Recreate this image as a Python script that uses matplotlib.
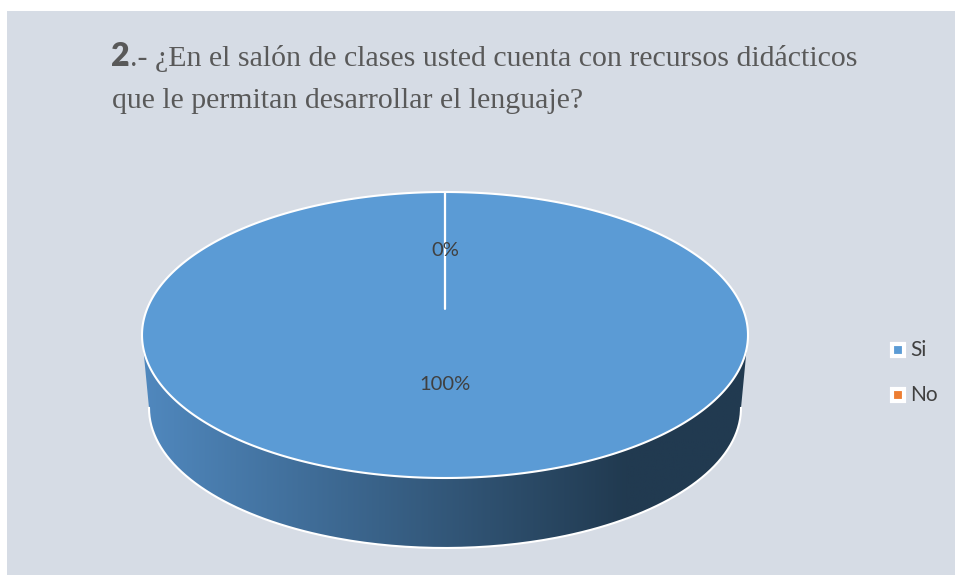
import numpy as np
import matplotlib.pyplot as plt
from matplotlib.patches import Polygon, Rectangle
from matplotlib.colors import LinearSegmentedColormap

categories = ['Si', 'No']
values = [100, 0]
colors = ['#5B9BD5', '#ED7D31']
side_dark = ['#213A50', '#7A3A12']
side_light = ['#5088BE', '#F08A45']
label_r = [0.53, 0.41]

title_num = '2'
title_l1 = '.- ¿En el salón de clases usted cuenta con recursos didácticos'
title_l2 = 'que le permitan desarrollar el lenguaje?'

W, H = 957, 575
fig = plt.figure(figsize=(W / 100, H / 100), dpi=100)
fig.patch.set_facecolor('white')
ax = fig.add_axes([0, 0, 1, 1])
ax.set_xlim(0, W)
ax.set_ylim(H, 0)
ax.axis('off')

ax.add_patch(Rectangle((7, 11), 948, 564, facecolor='#D6DCE5', edgecolor='none'))

# pie geometry (pixels)
cx, cy, a, b = 445, 335, 303, 143        # top face ellipse
bcy, ba, bb = 408, 296, 140              # bottom ellipse
apex = (445, 309)

total = sum(values)
fracs = [v / total for v in values]
starts = np.cumsum([0] + fracs[:-1]) * 2 * np.pi
ends = starts + np.array(fracs) * 2 * np.pi


def top_pt(t):
    return cx + a * np.sin(t), cy - b * np.cos(t)


def bot_pt(t):
    return cx + ba * np.sin(t), bcy - bb * np.cos(t)


# side walls (front half: t in [pi/2, 3pi/2])
for i in range(len(values)):
    t0 = max(starts[i], np.pi / 2)
    t1 = min(ends[i], 3 * np.pi / 2)
    if t1 <= t0:
        continue
    ts = np.linspace(t0, t1, 200)
    tx, ty = top_pt(ts)
    bx, by = bot_pt(ts[::-1])
    pts = np.column_stack([np.r_[tx, bx], np.r_[ty, by]])
    side = Polygon(pts, closed=True, facecolor='none', edgecolor='none')
    ax.add_patch(side)
    cmap = LinearSegmentedColormap.from_list(
        's', [(0, side_light[i]), (0.8, side_dark[i]), (1, side_dark[i])])
    grad = np.linspace(0, 1, 256).reshape(1, -1)
    im = ax.imshow(grad, cmap=cmap, extent=[cx - a, cx + a, by.max(), ty.min()],
                   aspect='auto', zorder=2)
    im.set_clip_path(side)
    ax.plot(bx, by, color='white', lw=1.5, zorder=3)

# top faces
for i in range(len(values)):
    ts = np.linspace(starts[i], ends[i], 400)
    tx, ty = top_pt(ts)
    pts = np.column_stack([np.r_[apex[0], tx], np.r_[apex[1], ty]])
    ax.add_patch(Polygon(pts, closed=True, facecolor=colors[i], edgecolor='white',
                         lw=1.5, joinstyle='round', zorder=4))

# data labels
for i in range(len(values)):
    mid = (starts[i] + ends[i]) / 2
    lx = apex[0]
    ly = apex[1] - label_r[i] * b * np.cos(mid)
    ax.text(lx, ly, f'{values[i] / total:.0%}', ha='center', va='center',
            fontsize=14.5, family='Lato', color='#404040', zorder=5)

# legend
for i, cat in enumerate(categories):
    ly = 350 + i * 45
    ax.plot(898, ly, marker='s', ms=9, mfc=colors[i], mec='white', mew=3, zorder=5)
    ax.text(910, ly, cat, ha='left', va='center', fontsize=15, family='Lato',
            color='#404040', zorder=5)

# title
t2 = ax.text(111, 66, title_num, fontsize=23, family='Lato', weight='heavy',
             color='#595959', va='baseline')
fig.canvas.draw()
bb2 = t2.get_window_extent()
x_after = ax.transData.inverted().transform((bb2.x1, bb2.y0))[0]
ax.text(x_after, 66, title_l1, fontsize=21.5, family='Liberation Serif',
        color='#595959', va='baseline')
ax.text(112, 108, title_l2, fontsize=21.5, family='Liberation Serif',
        color='#595959', va='baseline')

fig.savefig('out.png', dpi=100)
